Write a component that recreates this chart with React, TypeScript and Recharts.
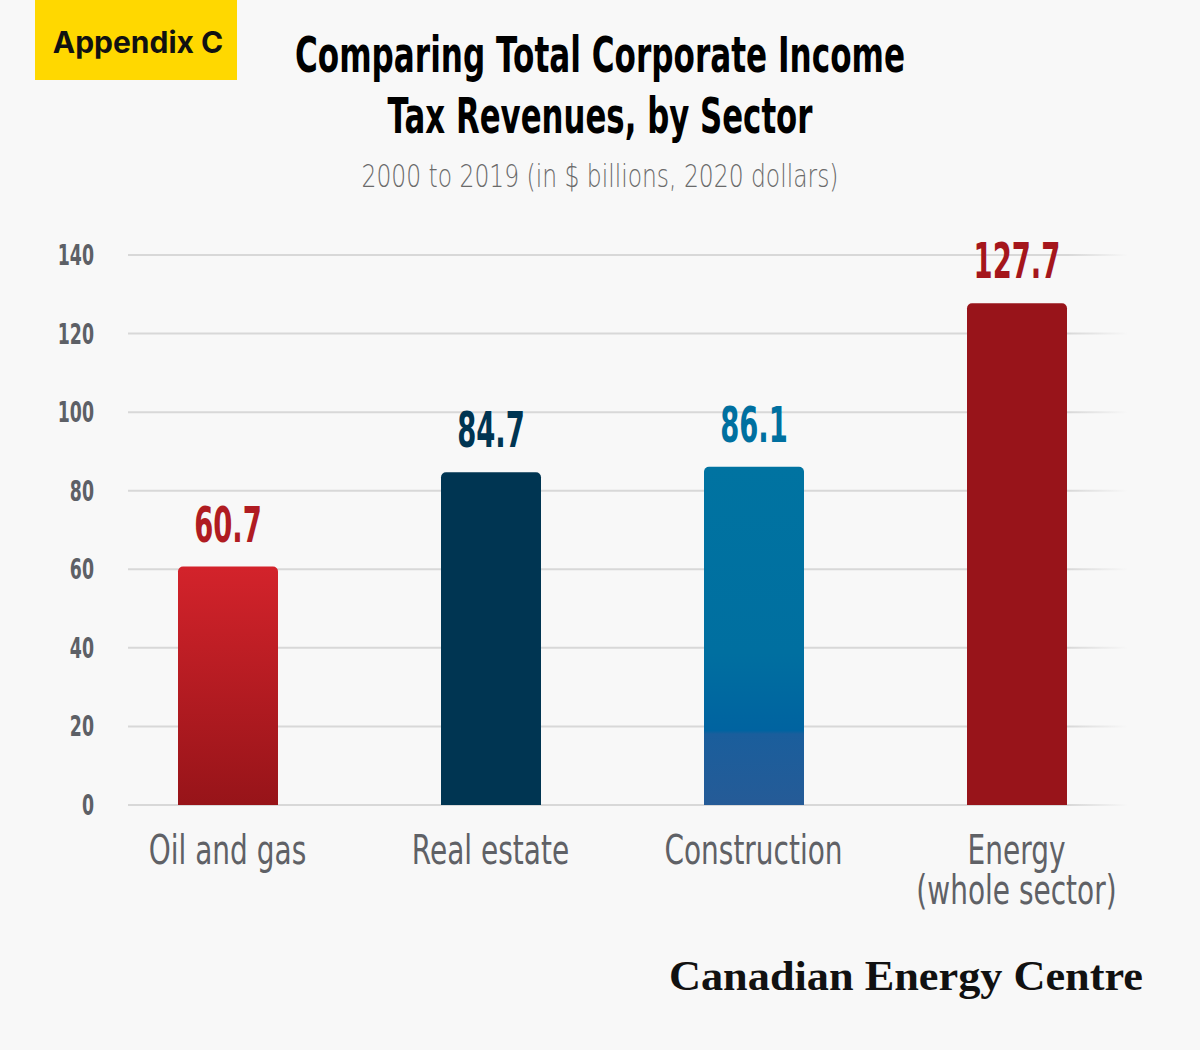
import { BarChart, Bar, XAxis, YAxis, CartesianGrid, Cell, LabelList } from 'recharts';

const categories = ['Oil and gas', 'Real estate', 'Construction', 'Energy (whole sector)'];
const revenues = [60.7, 84.7, 86.1, 127.7];
const yTicks = [0, 20, 40, 60, 80, 100, 120, 140];

const BAR_FILLS = ['url(#oilGrad)', '#003552', 'url(#constGrad)', '#98141a'];
const LABEL_COLORS = ['#b01c22', '#003552', '#0070a0', '#a5161c'];

const SANS = "'DejaVu Sans', sans-serif";

const data = categories.map((name, i) => ({ name, value: revenues[i] }));

// no condensed face installed, so squeeze DejaVu horizontally
function Squeezed({ x, y, sx, children, ...rest }: any) {
  return (
    <text transform={`translate(${x} ${y}) scale(${sx} 1)`} x={0} y={0} fontFamily={SANS} {...rest}>
      {children}
    </text>
  );
}

function YTick({ y, payload }: any) {
  return (
    <Squeezed x={94} y={y + 10} sx={0.62} textAnchor="end" fontWeight={700} fontSize={28} fill="#5d6066">
      {payload.value}
    </Squeezed>
  );
}

function XTick({ x, y, payload }: any) {
  const name: string = payload.value;
  const idx = name.indexOf(' (');
  const lines = idx > 0 ? [name.slice(0, idx), name.slice(idx + 1)] : [name];
  return (
    <g>
      {lines.map((l, i) => (
        <Squeezed key={i} x={x} y={y + 51 + i * 40} sx={0.7} textAnchor="middle" fontSize={40} fill="#5f6166">
          {l}
        </Squeezed>
      ))}
    </g>
  );
}

function ValueLabel({ x, y, width, value, index }: any) {
  return (
    <Squeezed x={x + width / 2} y={y - 25} sx={0.56} textAnchor="middle" fontWeight={700} fontSize={49} fill={LABEL_COLORS[index]}>
      {Number(value).toFixed(1)}
    </Squeezed>
  );
}

export default function App() {
  return (
    <div style={{ position: 'absolute', left: 0, top: 0, width: 1200, height: 1050, background: '#f8f8f8', overflow: 'hidden' }}>
      <BarChart width={1200} height={1050} data={data} margin={{ top: 255, right: 72, bottom: 145, left: 28 }}>
        <defs>
          <linearGradient id="oilGrad" x1="0" y1="0" x2="0" y2="1">
            <stop offset="0%" stopColor="#d3232b" />
            <stop offset="100%" stopColor="#971419" />
          </linearGradient>
          <linearGradient id="constGrad" x1="0" y1="0" x2="0" y2="1">
            <stop offset="0%" stopColor="#0073a1" />
            <stop offset="55%" stopColor="#006fa0" />
            <stop offset="78%" stopColor="#0063a0" />
            <stop offset="79%" stopColor="#1a5e9c" />
            <stop offset="100%" stopColor="#255b97" />
          </linearGradient>
          <linearGradient id="gridGrad" gradientUnits="userSpaceOnUse" x1="128" y1="0" x2="1128" y2="0">
            <stop offset="0%" stopColor="#d8d8d8" />
            <stop offset="94%" stopColor="#d8d8d8" />
            <stop offset="100%" stopColor="#f8f8f8" />
          </linearGradient>
        </defs>
        <CartesianGrid vertical={false} stroke="url(#gridGrad)" strokeWidth={2} />
        <XAxis
          dataKey="name"
          axisLine={false}
          tickLine={false}
          height={100}
          interval={0}
          padding={{ left: -32, right: -20 }}
          tick={<XTick />}
        />
        <YAxis
          domain={[0, 140]}
          ticks={yTicks}
          width={100}
          axisLine={false}
          tickLine={false}
          tick={<YTick />}
        />
        <Bar dataKey="value" barSize={100} radius={[5, 5, 0, 0]} isAnimationActive={false}>
          {data.map((d, i) => (
            <Cell key={d.name} fill={BAR_FILLS[i]} />
          ))}
          <LabelList dataKey="value" content={<ValueLabel />} />
        </Bar>
      </BarChart>

      <svg width={1200} height={1050} style={{ position: 'absolute', left: 0, top: 0, pointerEvents: 'none' }}>
        <rect x={35} y={0} width={202} height={80} fill="#ffd800" />
        <text x={138} y={53} textAnchor="middle" fontFamily="Inter, Roboto, sans-serif" fontWeight={700} fontSize={30} fill="#111">
          Appendix C
        </text>
        <text x={600} y={72} textAnchor="middle" fontFamily={SANS} fontWeight={700} fontSize={50} fill="#000" textLength={610} lengthAdjust="spacingAndGlyphs">
          Comparing Total Corporate Income
        </text>
        <text x={600} y={133} textAnchor="middle" fontFamily={SANS} fontWeight={700} fontSize={50} fill="#000" textLength={425} lengthAdjust="spacingAndGlyphs">
          Tax Revenues, by Sector
        </text>
        <text x={600} y={187} textAnchor="middle" fontFamily={SANS} fontWeight={300} fontSize={32} fill="#6a6a6a" textLength={477} lengthAdjust="spacingAndGlyphs">
          2000 to 2019 (in $ billions, 2020 dollars)
        </text>
        <text x={906} y={990} textAnchor="middle" fontFamily="'Liberation Serif', 'DejaVu Serif', serif" fontWeight={700} fontSize={42} fill="#111" textLength={474} lengthAdjust="spacingAndGlyphs">
          Canadian Energy Centre
        </text>
      </svg>
    </div>
  );
}
